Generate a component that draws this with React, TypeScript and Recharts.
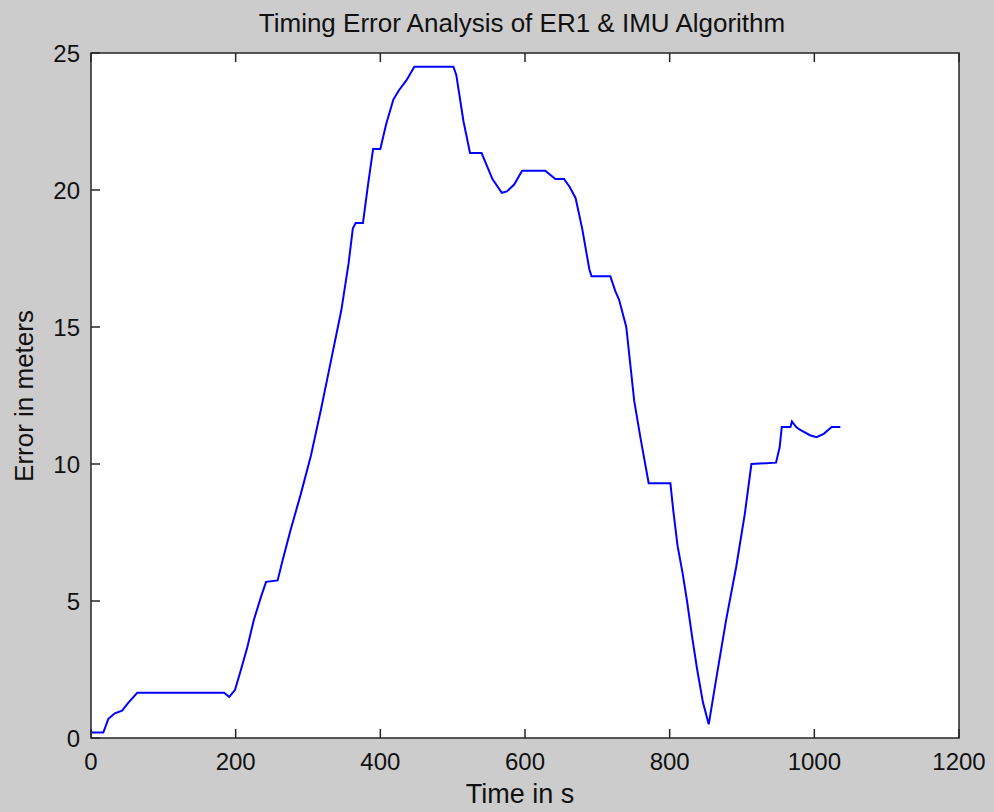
import React from 'react';
import { LineChart, Line, XAxis, YAxis } from 'recharts';

const timeSeconds = [
  0, 17, 24, 33, 43, 52, 64, 184, 191, 199, 206, 216, 225, 235, 242, 258, 265, 276, 290, 304,
  318, 332, 346, 356, 362, 366, 376, 383, 390, 400, 408, 418, 426, 436, 447, 501, 505, 515, 524, 540,
  555, 568, 575, 585, 596, 628, 642, 654, 662, 670, 679, 689, 692, 718, 725, 730, 740, 751, 760, 771,
  801, 805, 811, 818, 824, 831, 838, 846, 854, 864, 878, 892, 904, 913, 947, 952, 955, 967, 969, 975,
  980, 994, 1003, 1013, 1024, 1036,
];
const errorMeters = [
  0.2, 0.2, 0.7, 0.9, 1.0, 1.3, 1.65, 1.65, 1.5, 1.75, 2.37, 3.3, 4.3, 5.15, 5.7, 5.75, 6.5, 7.6, 8.9, 10.3,
  12.0, 13.8, 15.6, 17.3, 18.6, 18.8, 18.8, 20.2, 21.5, 21.5, 22.4, 23.3, 23.65, 24.0, 24.5, 24.5, 24.2, 22.5, 21.35, 21.35,
  20.4, 19.9, 19.95, 20.2, 20.7, 20.7, 20.4, 20.4, 20.1, 19.7, 18.6, 17.1, 16.85, 16.85, 16.3, 16.0, 15.0, 12.3, 10.9, 9.3,
  9.3, 8.3, 7.0, 6.0, 5.0, 3.7, 2.5, 1.3, 0.5, 2.1, 4.3, 6.25, 8.2, 10.0, 10.05, 10.6, 11.35, 11.35, 11.55, 11.35,
  11.25, 11.05, 10.98, 11.1, 11.35, 11.35,
];

const xTicks = [0, 200, 400, 600, 800, 1000, 1200];
const yTicks = [0, 5, 10, 15, 20, 25];

const titleText = 'Timing Error Analysis of ER1 & IMU Algorithm';
const xLabelText = 'Time in s';
const yLabelText = 'Error in meters';

const data = timeSeconds.map((t, i) => ({ t, v: errorMeters[i] }));

const W = 994;
const H = 812;
const PL = 91;
const PT = 53;
const PR = 959;
const PB = 738;
const AXW = 1;
const M = { top: PT - AXW, right: W - PR - AXW, bottom: H - PB - AXW, left: PL - AXW };
const FONT = '"Liberation Sans", Arial, sans-serif';
const AXIS = '#262626';
const TICK = 9;

const BottomTick = (p: any) => (
  <g>
    <line x1={p.x} y1={PB} x2={p.x} y2={PB - TICK} stroke={AXIS} strokeWidth={1.5} />
    <text x={p.x} y={PB + 32} textAnchor="middle" fontFamily={FONT} fontSize={24} fill="#111">
      {p.payload.value}
    </text>
  </g>
);
const TopTick = (p: any) => (
  <line x1={p.x} y1={PT} x2={p.x} y2={PT + TICK} stroke={AXIS} strokeWidth={1.5} />
);
const LeftTick = (p: any) => (
  <g>
    <line x1={PL} y1={p.y} x2={PL + TICK} y2={p.y} stroke={AXIS} strokeWidth={1.5} />
    <text x={PL - 11} y={p.y + 9} textAnchor="end" fontFamily={FONT} fontSize={24} fill="#111">
      {p.payload.value}
    </text>
  </g>
);
const RightTick = (p: any) => (
  <line x1={PR} y1={p.y} x2={PR - TICK} y2={p.y} stroke={AXIS} strokeWidth={1.5} />
);

export default function App() {
  return (
    <div style={{ position: 'absolute', left: 0, top: 0, width: W, height: H, background: '#cccccc' }}>
      <div
        style={{
          position: 'absolute',
          left: PL,
          top: PT,
          width: PR - PL,
          height: PB - PT,
          background: '#ffffff',
        }}
      />
      <div style={{ position: 'absolute', left: 0, top: 0 }}>
        <LineChart width={W} height={H} data={data} margin={M}>
          <XAxis
            xAxisId="b"
            dataKey="t"
            type="number"
            domain={[0, 1200]}
            ticks={xTicks}
            height={AXW}
            tickSize={0}
            tickMargin={0}
            tickLine={false}
            tick={<BottomTick />}
            axisLine={false}
            interval={0}
          />
          <XAxis
            xAxisId="t"
            orientation="top"
            dataKey="t"
            type="number"
            domain={[0, 1200]}
            ticks={xTicks}
            height={AXW}
            tickSize={0}
            tickMargin={0}
            tickLine={false}
            tick={<TopTick />}
            axisLine={false}
            interval={0}
          />
          <YAxis
            yAxisId="l"
            type="number"
            domain={[0, 25]}
            ticks={yTicks}
            width={AXW}
            tickSize={0}
            tickMargin={0}
            tickLine={false}
            tick={<LeftTick />}
            axisLine={false}
            interval={0}
          />
          <YAxis
            yAxisId="r"
            orientation="right"
            type="number"
            domain={[0, 25]}
            ticks={yTicks}
            width={AXW}
            tickSize={0}
            tickMargin={0}
            tickLine={false}
            tick={<RightTick />}
            axisLine={false}
            interval={0}
          />
          <Line
            xAxisId="b"
            yAxisId="l"
            type="linear"
            dataKey="v"
            stroke="#0000ff"
            strokeWidth={2}
            dot={false}
            isAnimationActive={false}
          />
        </LineChart>
      </div>
      <svg
        width={W}
        height={H}
        style={{ position: 'absolute', left: 0, top: 0, pointerEvents: 'none' }}
      >
        <rect
          x={PL}
          y={PT}
          width={PR - PL}
          height={PB - PT}
          fill="none"
          stroke={AXIS}
          strokeWidth={1.5}
        />
        <text x={522} y={32} textAnchor="middle" fontFamily={FONT} fontSize={26} fill="#111">
          {titleText}
        </text>
        <text x={520} y={803} textAnchor="middle" fontFamily={FONT} fontSize={27} fill="#111">
          {xLabelText}
        </text>
        <text
          x={33}
          y={396}
          textAnchor="middle"
          fontFamily={FONT}
          fontSize={26}
          fill="#111"
          transform="rotate(-90 33 396)"
        >
          {yLabelText}
        </text>
      </svg>
    </div>
  );
}
